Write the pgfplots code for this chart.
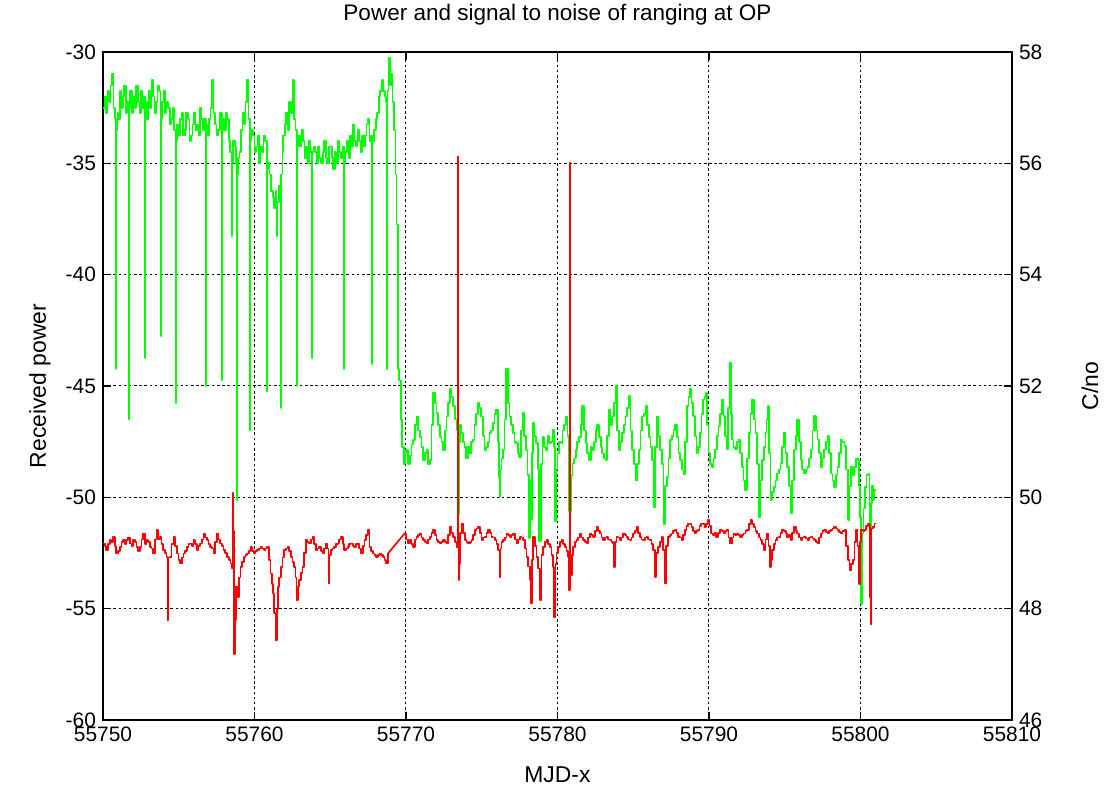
\documentclass[border=0pt]{standalone}
\usepackage{pgfplots}
\pgfplotsset{compat=1.18}
\usepackage{fontspec}
\setmainfont{Liberation Sans}
\definecolor{pgreen}{rgb}{0,1,0}
\definecolor{pred}{rgb}{1,0,0}
\begin{document}
\begin{tikzpicture}
\path[use as bounding box] (-51.5bp,-35bp) rectangle (500.5bp,360bp);
\pgfplotsset{
  common/.style={
    at={(0,0)}, anchor=south west,
    scale only axis, width=454.5bp, height=334bp,
    xmin=55750, xmax=55810,
    tick align=inside,
    major tick length=4bp,
    scaled x ticks=false, scaled y ticks=false,
    /pgf/number format/assume math mode=true,
    xticklabel style={/pgf/number format/.cd, fixed, precision=0, 1000 sep={}},
    tick label style={font=\fontsize{10.5}{12}\selectfont, black},
    label style={font=\fontsize{11.5}{13}\selectfont},
    axis line style={black, line width=0.8pt},
    every tick/.style={black, line width=0.6pt},
  },
  trace/.style={line width=0.85pt, mark=none, const plot, line join=round, line cap=round},
}
% frame, grid, left axis
\begin{axis}[common,
  ymin=-60, ymax=-30,
  ytick={-60,-55,...,-30},
  xtick={55750,55760,...,55810},
  ytick pos=left, xtick pos=both,
  grid=major,
  major grid style={black, line width=0.5pt, dash pattern=on 1.3pt off 1.3pt},
  every axis title shift=0pt,
  title={Power and signal to noise of ranging at OP},
  title style={font=\fontsize{11.3}{13}\selectfont, at={(axis description cs:0.5,1.0554)}, anchor=center},
  xlabel={MJD-x},
  xlabel style={at={(axis description cs:0.5,-0.0823)}, anchor=center},
  ylabel={Received power},
  ylabel style={at={(axis description cs:-0.0693,0.5)}, anchor=center},
]
\end{axis}
% right axis, green
\begin{axis}[common,
  ymin=46, ymax=58,
  ytick={46,48,...,58},
  axis x line=none, axis y line*=right,
  ylabel={C/no},
  ylabel style={at={(axis description cs:1.0858,0.5)}, anchor=center},
]
\addplot[pgreen, trace] coordinates {
(55750.0,57.0) (55750.1,57.2) (55750.2,56.9) (55750.3,57.3) (55750.4,57.1) (55750.5,57.4) (55750.6,57.6) (55750.7,57.0) (55750.8,56.8) (55750.85,52.3) (55750.88,56.6) (55750.95,56.9)
(55751.0,56.8) (55751.1,57.3) (55751.2,57.0) (55751.3,57.2) (55751.4,57.4) (55751.5,56.9) (55751.6,57.1) (55751.7,56.9) (55751.72,51.4) (55751.75,57.0) (55751.8,57.3) (55751.9,56.9)
(55752.0,57.2) (55752.1,57.0) (55752.2,57.4) (55752.3,57.1) (55752.4,56.9) (55752.5,57.3) (55752.6,57.0) (55752.7,57.2) (55752.76,52.5) (55752.79,57.1) (55752.9,56.8)
(55753.0,57.3) (55753.1,57.0) (55753.2,57.5) (55753.3,57.2) (55753.4,56.9) (55753.5,57.1) (55753.6,57.4) (55753.7,57.3) (55753.8,56.9) (55753.83,52.9) (55753.86,56.8) (55753.9,57.1)
(55754.0,57.3) (55754.1,56.9) (55754.2,57.1) (55754.3,57.0) (55754.4,56.7) (55754.5,56.8) (55754.6,57.0) (55754.7,56.6) (55754.81,51.7) (55754.84,56.4) (55754.9,56.7)
(55755.0,56.5) (55755.1,56.8) (55755.2,56.9) (55755.3,56.5) (55755.4,56.6) (55755.5,56.9) (55755.6,56.8) (55755.7,56.4) (55755.8,56.5) (55755.9,56.7)
(55756.0,56.9) (55756.1,56.6) (55756.2,56.7) (55756.3,56.5) (55756.4,57.0) (55756.5,56.8) (55756.6,56.6) (55756.7,56.8) (55756.79,52.0) (55756.82,56.7) (55756.9,56.5)
(55757.0,56.8) (55757.1,57.0) (55757.2,57.5) (55757.3,56.9) (55757.4,56.7) (55757.5,56.5) (55757.6,56.6) (55757.7,56.9) (55757.84,52.1) (55757.87,56.6) (55757.9,56.8)
(55758.0,56.6) (55758.1,56.9) (55758.2,56.8) (55758.3,56.4) (55758.4,56.2) (55758.48,54.7) (55758.52,56.0) (55758.6,56.4) (55758.7,56.3) (55758.8,56.0) (55758.84,49.95) (55758.87,55.8) (55758.9,56.1)
(55759.0,56.2) (55759.1,56.6) (55759.2,56.9) (55759.3,56.7) (55759.4,57.1) (55759.5,57.5) (55759.6,56.8) (55759.69,51.2) (55759.72,56.4) (55759.8,56.6) (55759.9,56.5)
(55760.0,56.2) (55760.1,56.3) (55760.2,56.5) (55760.3,56.0) (55760.4,56.3) (55760.5,56.2) (55760.6,56.5) (55760.7,56.4) (55760.83,51.9) (55760.86,55.9) (55760.9,56.0)
(55761.0,55.8) (55761.1,55.5) (55761.2,55.4) (55761.3,55.2) (55761.4,55.5) (55761.45,54.7) (55761.5,55.3) (55761.6,55.6) (55761.74,51.6) (55761.77,55.8) (55761.85,56.2) (55761.9,56.5)
(55762.0,56.7) (55762.1,56.9) (55762.2,56.6) (55762.3,57.1) (55762.4,56.9) (55762.5,57.5) (55762.6,56.8) (55762.7,56.6) (55762.8,52.0) (55762.83,56.3) (55762.9,56.5)
(55763.0,56.3) (55763.1,56.6) (55763.2,56.4) (55763.3,56.1) (55763.4,56.3) (55763.5,56.0) (55763.6,56.4) (55763.7,56.2) (55763.79,52.5) (55763.82,56.2) (55763.9,56.3)
(55764.0,56.2) (55764.1,56.0) (55764.2,56.3) (55764.3,56.1) (55764.4,56.0) (55764.5,56.2) (55764.6,56.4) (55764.7,56.1) (55764.8,56.0) (55764.9,56.3)
(55765.0,56.3) (55765.1,56.1) (55765.2,55.9) (55765.3,56.2) (55765.4,56.0) (55765.5,56.4) (55765.6,56.2) (55765.7,56.1) (55765.8,56.3) (55765.9,52.3) (55765.93,56.0)
(55766.0,56.2) (55766.1,56.4) (55766.2,56.1) (55766.3,56.5) (55766.4,56.3) (55766.5,56.7) (55766.6,56.4) (55766.7,56.3) (55766.8,56.6) (55766.9,56.4)
(55767.0,56.2) (55767.1,56.5) (55767.2,56.3) (55767.3,56.5) (55767.4,56.7) (55767.5,56.8) (55767.6,56.4) (55767.7,56.5) (55767.75,52.4) (55767.78,56.4) (55767.9,56.6)
(55768.0,56.8) (55768.1,56.9) (55768.2,57.2) (55768.3,57.3) (55768.4,57.5) (55768.5,57.3) (55768.6,57.2) (55768.7,57.1) (55768.74,52.3) (55768.77,57.3) (55768.85,57.9) (55768.95,57.4)
(55769.0,57.6) (55769.1,57.1) (55769.2,56.6) (55769.3,55.8) (55769.38,54.9) (55769.45,52.3) (55769.55,52.1) (55769.65,51.4) (55769.75,50.9) (55769.85,50.6) (55769.95,50.8)
(55770.00,50.85) (55770.13,50.6) (55770.26,50.75) (55770.37,50.95) (55770.48,51.03) (55770.59,51.3) (55770.70,51.45) (55770.81,51.2) (55770.92,51.09)
(55771.03,50.9) (55771.14,50.67) (55771.25,50.8) (55771.36,50.85) (55771.47,50.6) (55771.58,50.67) (55771.69,51.3) (55771.79,51.88) (55771.90,51.7)
(55772.01,51.52) (55772.12,51.3) (55772.23,51.09) (55772.34,51.0) (55772.45,50.85) (55772.56,51.2) (55772.67,51.45) (55772.78,51.7) (55772.89,51.94)
(55773.00,51.8) (55773.11,51.64) (55773.22,51.4) (55773.33,51.21) (55773.44,51.1) (55773.46,49.70) (55773.48,51.0) (55773.56,51.3) (55773.65,51.15) (55773.76,51.0) (55773.87,50.91) (55773.98,50.7)
(55774.09,50.9) (55774.20,50.79) (55774.31,51.0) (55774.42,51.03) (55774.53,51.3) (55774.64,51.5) (55774.75,51.70) (55774.86,51.6) (55774.97,51.45)
(55775.08,51.1) (55775.19,50.85) (55775.30,50.9) (55775.41,51.0) (55775.51,51.15) (55775.62,51.2) (55775.73,51.33) (55775.84,51.5) (55775.95,51.58)
(55776.05,51.0) (55776.15,50.36) (55776.17,50.00) (55776.20,50.5) (55776.30,50.7) (55776.39,50.85) (55776.50,51.4) (55776.61,52.30) (55776.72,51.7) (55776.83,51.45) (55776.94,51.3)
(55777.05,51.15) (55777.16,51.0) (55777.26,50.97) (55777.37,50.8) (55777.48,50.73) (55777.59,51.2) (55777.70,51.52) (55777.81,51.1) (55777.92,50.85)
(55778.03,50.4) (55778.14,49.27) (55778.20,50.3) (55778.25,49.6) (55778.30,50.8) (55778.36,51.33) (55778.47,51.1) (55778.58,50.97) (55778.69,50.5) (55778.80,49.21) (55778.91,50.6)
(55779.02,51.09) (55779.12,50.9) (55779.23,50.85) (55779.34,51.1) (55779.45,50.97) (55779.56,51.0) (55779.67,51.21) (55779.75,50.9) (55779.82,49.58) (55779.90,50.5)
(55780.00,50.79) (55780.11,51.0) (55780.22,50.97) (55780.33,51.2) (55780.44,51.3) (55780.55,51.45) (55780.66,51.1) (55780.77,49.76) (55780.88,50.4) (55780.98,50.61)
(55781.09,50.7) (55781.20,50.85) (55781.31,51.0) (55781.42,51.09) (55781.53,51.3) (55781.64,51.64) (55781.75,51.2) (55781.86,50.97) (55781.97,50.8)
(55782.08,50.67) (55782.19,50.9) (55782.30,50.85) (55782.41,51.0) (55782.52,51.21) (55782.63,51.3) (55782.74,51.09) (55782.85,50.9) (55782.95,50.79)
(55783.06,50.7) (55783.17,50.67) (55783.28,51.1) (55783.39,51.58) (55783.50,51.3) (55783.61,51.45) (55783.72,51.7) (55783.83,52.00) (55783.94,51.2)
(55784.05,50.85) (55784.16,51.0) (55784.27,51.15) (55784.38,51.3) (55784.49,51.45) (55784.60,51.6) (55784.70,51.82) (55784.81,51.2) (55784.92,50.85)
(55785.03,50.6) (55785.14,50.30) (55785.25,50.6) (55785.36,50.85) (55785.47,51.2) (55785.58,51.45) (55785.69,51.5) (55785.80,51.64) (55785.91,51.3)
(55786.02,51.09) (55786.13,50.9) (55786.24,50.67) (55786.35,49.82) (55786.45,50.9) (55786.56,51.45) (55786.67,51.1) (55786.78,50.85) (55786.89,50.6)
(55787.00,49.52) (55787.11,50.2) (55787.22,50.36) (55787.33,50.7) (55787.44,51.03) (55787.55,51.1) (55787.66,51.21) (55787.77,51.3) (55787.88,51.09) (55787.99,50.8)
(55788.10,50.67) (55788.21,50.5) (55788.32,50.42) (55788.43,51.0) (55788.53,51.64) (55788.64,51.8) (55788.74,51.94) (55788.85,51.7) (55788.96,51.46)
(55789.07,51.1) (55789.18,50.80) (55789.29,50.9) (55789.40,51.16) (55789.51,51.5) (55789.62,51.76) (55789.71,51.8) (55789.80,51.88) (55789.88,51.3) (55789.96,50.80)
(55790.07,50.6) (55790.18,50.55) (55790.29,50.7) (55790.40,50.86) (55790.51,51.1) (55790.62,51.28) (55790.73,51.5) (55790.84,51.76) (55790.95,51.46)
(55791.06,51.1) (55791.18,50.86) (55791.27,51.6) (55791.35,52.42) (55791.43,51.5) (55791.51,51.04) (55791.62,50.9) (55791.73,50.86) (55791.84,51.0) (55791.95,51.04)
(55792.06,50.8) (55792.17,50.55) (55792.28,50.3) (55792.39,50.13) (55792.50,50.7) (55792.62,51.16) (55792.73,51.5) (55792.84,51.76) (55792.95,51.4)
(55793.06,51.16) (55793.17,50.6) (55793.28,49.65) (55793.39,50.3) (55793.50,50.67) (55793.61,50.9) (55793.73,51.16) (55793.80,51.4) (55793.88,51.64) (55793.97,50.8)
(55794.06,49.95) (55794.17,50.1) (55794.28,50.19) (55794.39,50.3) (55794.50,50.43) (55794.61,50.5) (55794.72,50.61) (55794.83,50.9) (55794.94,51.16)
(55795.05,50.8) (55795.17,50.55) (55795.28,50.2) (55795.39,49.71) (55795.50,50.3) (55795.61,50.86) (55795.72,51.1) (55795.83,51.40) (55795.94,51.0)
(55796.05,50.67) (55796.16,50.5) (55796.27,50.43) (55796.38,50.5) (55796.50,50.55) (55796.61,50.7) (55796.72,50.86) (55796.83,51.2) (55796.94,51.46)
(55797.05,51.2) (55797.16,51.04) (55797.27,50.8) (55797.38,50.55) (55797.50,50.7) (55797.61,50.86) (55797.72,51.0) (55797.83,51.10) (55797.94,50.8)
(55798.05,50.43) (55798.16,50.3) (55798.27,50.19) (55798.38,50.4) (55798.49,50.55) (55798.60,50.8) (55798.71,51.04) (55798.82,51.0) (55798.94,50.92)
(55799.05,50.5) (55799.16,49.59) (55799.27,50.2) (55799.38,50.55) (55799.49,50.4) (55799.60,50.55) (55799.71,50.7) (55799.82,50.67) (55799.90,50.2) (55799.98,49.65)
(55800.05,48.08) (55800.12,49.35) (55800.20,49.8) (55800.30,50.19) (55800.40,50.4) (55800.53,50.43) (55800.60,49.5) (55800.66,47.84) (55800.70,49.9) (55800.78,50.2) (55800.85,49.95) (55800.93,50.13) (55801.00,50.13)
};
\end{axis}
% red on top, left scale
\begin{axis}[common, hide axis, ymin=-60, ymax=-30]
\addplot[pred, trace] coordinates {
(55750.00,-52.07) (55750.11,-52.2) (55750.22,-52.37) (55750.33,-52.1) (55750.44,-51.92) (55750.55,-52.0) (55750.66,-51.77) (55750.77,-52.2) (55750.88,-52.52)
(55751.00,-52.4) (55751.11,-52.22) (55751.22,-52.0) (55751.33,-51.92) (55751.44,-52.1) (55751.55,-51.92) (55751.66,-51.8) (55751.77,-52.07) (55751.88,-52.2) (55751.99,-51.92)
(55752.10,-52.0) (55752.21,-52.22) (55752.32,-52.4) (55752.43,-52.22) (55752.54,-51.9) (55752.65,-51.62) (55752.76,-52.1) (55752.88,-51.92) (55752.99,-52.0)
(55753.10,-52.22) (55753.21,-52.3) (55753.32,-52.52) (55753.43,-51.9) (55753.54,-51.47) (55753.65,-51.9) (55753.76,-51.77) (55753.87,-52.1) (55753.98,-52.37)
(55754.09,-52.5) (55754.20,-52.67) (55754.26,-55.53) (55754.29,-52.7) (55754.42,-52.67) (55754.53,-52.1) (55754.65,-51.77) (55754.76,-52.2) (55754.87,-52.52) (55754.98,-52.8)
(55755.09,-52.97) (55755.20,-52.7) (55755.31,-52.52) (55755.42,-52.4) (55755.53,-52.22) (55755.64,-52.1) (55755.75,-52.07) (55755.86,-52.2) (55755.97,-51.92)
(55756.08,-52.1) (55756.19,-52.37) (55756.30,-52.2) (55756.42,-52.07) (55756.53,-51.9) (55756.64,-51.62) (55756.75,-51.8) (55756.86,-51.92) (55756.97,-52.1)
(55757.08,-52.22) (55757.19,-52.3) (55757.30,-52.52) (55757.41,-52.0) (55757.52,-51.62) (55757.63,-51.9) (55757.74,-52.07) (55757.85,-52.2) (55757.96,-52.37)
(55758.07,-52.5) (55758.19,-52.67) (55758.30,-52.8) (55758.41,-52.97) (55758.50,-53.2) (55758.55,-49.82) (55758.60,-51.5) (55758.66,-57.03) (55758.72,-55.5) (55758.78,-54.0) (55758.85,-54.47) (55758.96,-53.6)
(55759.07,-53.12) (55759.18,-52.9) (55759.29,-52.67) (55759.40,-52.6) (55759.51,-52.52) (55759.62,-52.4) (55759.73,-52.22) (55759.84,-52.4) (55759.96,-52.52)
(55760.07,-52.4) (55760.18,-52.37) (55760.29,-52.3) (55760.40,-52.22) (55760.51,-52.3) (55760.62,-52.37) (55760.73,-52.3) (55760.84,-52.22) (55760.95,-52.8)
(55761.06,-53.42) (55761.14,-53.9) (55761.22,-54.32) (55761.30,-55.2) (55761.39,-56.43) (55761.47,-55.0) (55761.55,-54.02) (55761.64,-53.6) (55761.73,-53.12) (55761.84,-52.7) (55761.95,-52.37)
(55762.06,-52.3) (55762.17,-52.22) (55762.28,-52.4) (55762.39,-52.67) (55762.50,-52.9) (55762.61,-53.12) (55762.70,-53.6) (55762.77,-54.62) (55762.85,-54.0) (55762.94,-53.72)
(55763.05,-53.4) (55763.16,-53.12) (55763.27,-52.5) (55763.38,-51.92) (55763.49,-52.0) (55763.60,-52.07) (55763.71,-51.9) (55763.83,-51.77) (55763.94,-52.1)
(55764.05,-52.37) (55764.16,-52.3) (55764.27,-52.22) (55764.38,-52.4) (55764.49,-52.52) (55764.60,-52.3) (55764.71,-52.07) (55764.80,-52.3) (55764.89,-53.87) (55764.96,-52.6)
(55765.04,-52.37) (55765.15,-52.3) (55765.27,-52.22) (55765.38,-52.1) (55765.49,-52.07) (55765.60,-51.9) (55765.71,-51.77) (55765.82,-52.1) (55765.93,-52.37)
(55766.04,-52.3) (55766.15,-52.22) (55766.26,-52.1) (55766.37,-52.07) (55766.48,-52.2) (55766.59,-52.22) (55766.70,-52.1) (55766.81,-52.07) (55766.92,-52.3)
(55767.04,-52.52) (55767.15,-52.2) (55767.26,-51.92) (55767.37,-51.7) (55767.48,-51.47) (55767.59,-52.22) (55767.70,-52.4) (55767.81,-52.52) (55767.92,-52.6)
(55768.03,-52.67) (55768.14,-52.6) (55768.25,-52.52) (55768.36,-52.6) (55768.47,-52.67) (55768.58,-52.8) (55768.69,-52.97) (55768.81,-52.52)
};
\addplot[pred, line width=0.85pt, mark=none] coordinates {(55768.81,-52.52) (55769.91,-51.62)};
\addplot[pred, trace] coordinates {
(55769.91,-51.62) (55770.02,-51.9) (55770.13,-52.07) (55770.26,-51.92) (55770.37,-52.1) (55770.48,-52.22) (55770.59,-51.9) (55770.70,-51.77) (55770.81,-51.7) (55770.92,-51.62)
(55771.03,-51.8) (55771.14,-51.92) (55771.25,-52.0) (55771.36,-52.07) (55771.47,-51.9) (55771.58,-51.77) (55771.69,-51.6) (55771.80,-51.47) (55771.91,-51.7)
(55772.02,-51.92) (55772.13,-52.0) (55772.24,-52.07) (55772.35,-52.0) (55772.46,-51.92) (55772.57,-52.0) (55772.68,-52.07) (55772.79,-51.7) (55772.90,-51.32)
(55773.01,-51.6) (55773.12,-51.77) (55773.23,-52.0) (55773.34,-52.22) (55773.42,-52.0) (55773.44,-34.7) (55773.46,-53.72) (55773.49,-53.0) (55773.58,-51.6) (55773.67,-51.17) (55773.78,-51.6) (55773.89,-51.92)
(55774.00,-52.0) (55774.11,-52.07) (55774.22,-52.0) (55774.33,-51.92) (55774.44,-51.7) (55774.55,-51.47) (55774.66,-51.4) (55774.77,-51.32) (55774.88,-51.6) (55774.99,-51.92)
(55775.10,-51.8) (55775.21,-51.77) (55775.32,-51.6) (55775.43,-51.47) (55775.54,-51.6) (55775.65,-51.77) (55775.76,-51.8) (55775.87,-51.92) (55775.98,-52.1)
(55776.09,-52.37) (55776.18,-53.57) (55776.24,-52.3) (55776.31,-52.0) (55776.42,-51.92) (55776.53,-51.8) (55776.64,-51.62) (55776.75,-51.7) (55776.86,-51.77) (55776.97,-51.7)
(55777.08,-51.62) (55777.19,-51.9) (55777.30,-52.07) (55777.41,-51.9) (55777.52,-51.77) (55777.63,-51.8) (55777.74,-51.92) (55777.85,-52.3) (55777.96,-52.67)
(55778.07,-53.1) (55778.18,-53.72) (55778.24,-54.77) (55778.30,-52.8) (55778.40,-51.77) (55778.51,-52.2) (55778.62,-52.67) (55778.73,-53.2) (55778.84,-54.62) (55778.94,-52.6)
(55779.05,-52.22) (55779.16,-52.0) (55779.27,-51.92) (55779.38,-52.1) (55779.49,-52.22) (55779.60,-52.6) (55779.71,-53.12) (55779.78,-55.38) (55779.86,-53.0) (55779.93,-52.5)
(55780.04,-52.22) (55780.15,-52.0) (55780.26,-51.92) (55780.37,-52.1) (55780.48,-52.22) (55780.59,-52.4) (55780.70,-52.67) (55780.78,-54.17) (55780.83,-35.0) (55780.86,-53.5) (55780.95,-52.6)
(55781.03,-52.22) (55781.14,-52.0) (55781.25,-51.92) (55781.36,-51.8) (55781.47,-51.62) (55781.58,-51.8) (55781.69,-51.92) (55781.80,-52.0) (55781.91,-52.07)
(55782.02,-51.8) (55782.13,-51.62) (55782.24,-51.7) (55782.35,-51.77) (55782.46,-51.5) (55782.57,-51.32) (55782.68,-51.5) (55782.79,-51.62) (55782.90,-51.8)
(55783.01,-51.92) (55783.12,-51.8) (55783.23,-51.77) (55783.34,-51.9) (55783.45,-51.92) (55783.56,-52.0) (55783.67,-52.07) (55783.74,-53.12) (55783.80,-52.0) (55783.89,-51.77)
(55784.00,-51.8) (55784.11,-51.92) (55784.22,-51.8) (55784.33,-51.62) (55784.44,-51.7) (55784.55,-51.77) (55784.66,-51.9) (55784.77,-51.92) (55784.88,-51.8) (55784.99,-51.62)
(55785.10,-51.5) (55785.21,-51.32) (55785.32,-51.6) (55785.43,-51.77) (55785.54,-51.9) (55785.65,-51.92) (55785.76,-51.8) (55785.87,-51.77) (55785.98,-51.9)
(55786.09,-51.92) (55786.20,-52.1) (55786.31,-52.37) (55786.42,-53.57) (55786.50,-52.5) (55786.64,-52.22) (55786.75,-52.0) (55786.86,-51.77) (55786.97,-52.37)
(55787.10,-53.87) (55787.18,-52.2) (55787.30,-51.77) (55787.41,-51.7) (55787.52,-51.62) (55787.63,-51.5) (55787.74,-51.47) (55787.85,-51.6) (55787.96,-51.77)
(55788.07,-51.8) (55788.18,-51.92) (55788.29,-51.7) (55788.40,-51.47) (55788.51,-51.3) (55788.62,-51.17) (55788.73,-51.2) (55788.84,-51.32) (55788.95,-51.5)
(55789.05,-51.62) (55789.16,-51.5) (55789.27,-51.47) (55789.38,-51.3) (55789.49,-51.17) (55789.60,-51.2) (55789.71,-51.32) (55789.82,-51.2) (55789.93,-51.02)
(55790.04,-51.3) (55790.15,-51.62) (55790.26,-51.7) (55790.37,-51.6) (55790.48,-51.77) (55790.60,-51.6) (55790.73,-51.48) (55790.84,-51.5) (55790.95,-51.63)
(55791.06,-51.5) (55791.18,-51.48) (55791.29,-51.8) (55791.40,-52.08) (55791.51,-51.8) (55791.62,-51.63) (55791.73,-51.7) (55791.84,-51.63) (55791.95,-51.7)
(55792.06,-51.78) (55792.17,-51.7) (55792.28,-51.63) (55792.40,-51.5) (55792.51,-51.48) (55792.62,-51.2) (55792.73,-51.02) (55792.84,-51.2) (55792.95,-51.33)
(55793.06,-51.5) (55793.17,-51.63) (55793.28,-51.8) (55793.39,-51.93) (55793.50,-52.1) (55793.61,-52.38) (55793.72,-51.9) (55793.84,-51.63) (55793.93,-52.2)
(55794.01,-53.13) (55794.09,-52.8) (55794.17,-52.38) (55794.28,-52.1) (55794.39,-51.93) (55794.50,-51.8) (55794.61,-51.78) (55794.72,-51.6) (55794.83,-51.48) (55794.94,-51.5)
(55795.06,-51.63) (55795.17,-51.8) (55795.28,-51.7) (55795.39,-51.93) (55795.50,-51.6) (55795.61,-51.33) (55795.72,-51.5) (55795.83,-51.63) (55795.94,-51.8)
(55796.05,-51.93) (55796.16,-51.8) (55796.27,-51.78) (55796.38,-51.85) (55796.50,-51.93) (55796.61,-51.8) (55796.72,-51.78) (55796.83,-51.85) (55796.94,-51.93)
(55797.05,-52.0) (55797.16,-52.08) (55797.27,-51.8) (55797.38,-51.63) (55797.50,-51.5) (55797.61,-51.48) (55797.72,-51.55) (55797.83,-51.63) (55797.94,-51.5)
(55798.05,-51.48) (55798.16,-51.4) (55798.27,-51.33) (55798.38,-51.4) (55798.49,-51.48) (55798.60,-51.55) (55798.71,-51.63) (55798.82,-51.5) (55798.94,-51.48)
(55799.05,-52.2) (55799.16,-52.83) (55799.27,-53.28) (55799.38,-53.0) (55799.49,-52.83) (55799.60,-52.0) (55799.71,-51.48) (55799.80,-52.2) (55799.89,-53.89) (55799.96,-52.0)
(55800.04,-51.48) (55800.15,-51.5) (55800.27,-51.48) (55800.38,-51.3) (55800.49,-51.17) (55800.58,-51.25) (55800.64,-54.5) (55800.67,-55.69) (55800.72,-51.4) (55800.82,-51.33) (55800.93,-51.17) (55801.00,-51.17)
};
\end{axis}
\end{tikzpicture}
\end{document}
